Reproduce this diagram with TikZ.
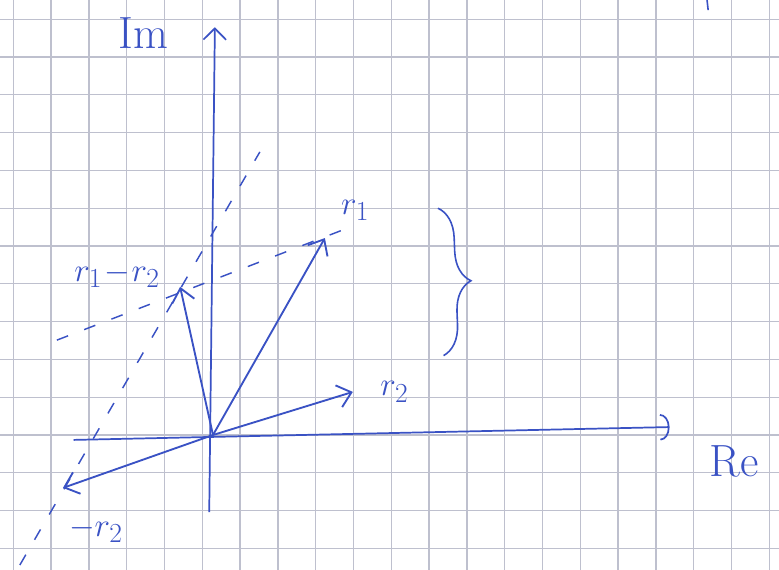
\documentclass[tikz,border=0pt]{standalone}
\usetikzlibrary{arrows.meta,decorations.pathreplacing}
\definecolor{pen}{RGB}{58,82,196}
\definecolor{paper}{RGB}{190,192,206}
\tikzset{
  vec/.style={pen,line width=1.4pt,-{Straight Barb[length=3.5mm,width=6mm]}},
  axis/.style={pen,line width=1.3pt},
  helper/.style={pen,line width=1.1pt,dash pattern=on 9pt off 13pt},
  lbl/.style={pen,font=\fontsize{28}{30}\selectfont,inner sep=1pt},
  axlbl/.style={lbl,font=\fontsize{34}{36}\selectfont}
}
\begin{document}
\begin{tikzpicture}[x=1cm,y=1cm]
\useasboundingbox (-5.635,-3.571) rectangle (14.974,11.508);
% squared paper
\foreach \k in {0,...,20} \draw[paper,line width=1pt] (-5.283+\k,-3.571) -- (-5.283+\k,11.508);
\foreach \y in {-3,...,11} \draw[paper,line width=1pt] (-5.635,\y) -- (14.974,\y);
\coordinate (O) at (0,0);
\coordinate (r1) at (2.96,5.21);
\coordinate (r2) at (3.70,1.14);
\coordinate (mr2) at (-3.97,-1.40);
\coordinate (d) at (-0.87,3.92);
% axes
\draw[axis,-{Straight Barb[length=3mm,width=6mm]}] (-0.1,-2.04) -- (0.05,10.79);
\draw[axis,-{Arc Barb[length=2.5mm,width=7mm]}] (-3.69,-0.13) -- (12.08,0.21);
\node[axlbl] (im) at (-1.85,10.63) {Im};
\node[axlbl,anchor=west] (re) at (13.1,-0.71) {Re};
% helper lines
\draw[helper] (-4.13,2.51) -- (3.5,5.45);
\draw[helper] (-5.11,-3.44) -- (1.24,7.49);
% vectors
\draw[vec] (O) -- (r1);
\draw[vec] (O) -- (r2);
\draw[vec] (O) -- (mr2);
\draw[vec] (O) -- (d);
\node[lbl] (r1lab) at (3.76,5.95) {$r_1$};
\node[lbl] (r2lab) at (4.8,1.14) {$r_2$};
\node[lbl] (mr2lab) at (-3.1,-2.51) {$-r_2$};
\node[lbl] (dlab) at (-2.54,4.23) {$r_1\!-\!r_2$};
% brace
\draw[pen,line width=1.2pt,decorate,decoration={brace,amplitude=0.8cm}] (5.95,6.0) -- (6.1,2.1);
\draw[pen,line width=1.2pt] (13.07,11.51) -- (13.1,11.24);
\end{tikzpicture}
\end{document}
